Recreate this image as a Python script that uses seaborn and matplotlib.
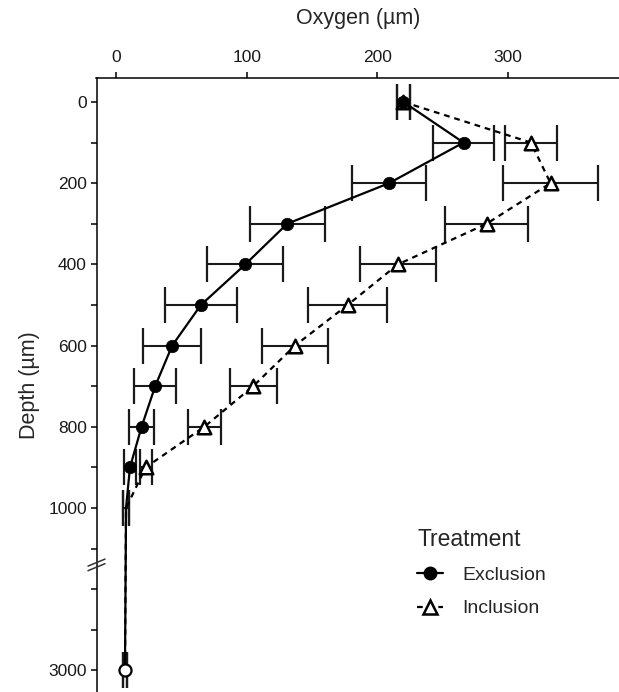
import numpy as np
import pandas as pd
import seaborn as sns
import matplotlib.pyplot as plt
from matplotlib.lines import Line2D
import matplotlib.transforms as mtrans

# depth profile (um) and oxygen readings
depth = [0, 100, 200, 300, 400, 500, 600, 700, 800, 900, 1000, 3000]
excl_o2 = [220, 266, 209, 131, 99, 65, 43, 30, 19.6, 10.7, 7.7, 6.9]
excl_se = [5, 23, 28.5, 28.7, 29, 27.5, 22, 16, 9.5, 4.5, 2.3, 1.5]
incl_o2 = [220, 317.6, 332.6, 283.6, 215.8, 177.3, 137, 105, 67.6, 22.7, 7.7, 6.9]
incl_se = [5, 20, 36, 32, 29, 30, 25.5, 18, 12.7, 4.5, 2.3, 1.5]
treatments = ["Exclusion", "Inclusion"]

ytick_major = [0, 200, 400, 600, 800, 1000, 3000]
ytick_minor = [100, 300, 500, 700, 900, 1500, 2000, 2500]
xticks = [0, 100, 200, 300]


def depth_pos(d):
    # broken axis: below 1000 um the scale is squeezed 5x
    d = np.asarray(d, dtype=float)
    return np.where(d > 1000, 1000 + (d - 1000) * 0.2, d)


df = pd.DataFrame({
    "depth": depth * 2,
    "oxygen": excl_o2 + incl_o2,
    "se": excl_se + incl_se,
    "Treatment": [treatments[0]] * len(depth) + [treatments[1]] * len(depth),
})
df["pos"] = depth_pos(df["depth"])

sns.set_style("ticks")
plt.rcParams["font.family"] = ["Liberation Sans", "DejaVu Sans"]

fig = plt.figure(figsize=(6.19, 6.92), dpi=100)
ax = fig.add_axes([96.5 / 619, 0, 1 - 96.5 / 619, (692 - 78) / 692])

# error bars first, then lines, then points
for t in treatments:
    sub = df[df.Treatment == t]
    ax.errorbar(sub.oxygen, sub.pos, xerr=sub.se, fmt="none", ecolor="#1a1a1a",
                elinewidth=1.5, capsize=13, capthick=1.6, zorder=2)

sns.lineplot(data=df, x="oxygen", y="pos", style="Treatment",
             dashes={"Exclusion": "", "Inclusion": (2.6, 2.2)},
             color="black", lw=1.6, sort=False, estimator=None, orient="y",
             legend=False, ax=ax, zorder=3)

# no markers were drawn at 1000 um
inc = df[(df.Treatment == "Inclusion") & (df.depth <= 900)]
exc = df[(df.Treatment == "Exclusion") & (df.depth <= 900)]
deep = df[(df.Treatment == "Exclusion") & (df.depth == 3000)]
sns.scatterplot(data=inc, x="oxygen", y="pos", marker="^", s=95, color="white",
                edgecolor="black", linewidth=1.8, ax=ax, zorder=4, legend=False)
sns.scatterplot(data=exc, x="oxygen", y="pos", marker="o", s=80, color="black",
                edgecolor="black", linewidth=0.5, ax=ax, zorder=5, legend=False)
sns.scatterplot(data=deep, x="oxygen", y="pos", marker="o", s=75, color="white",
                edgecolor="black", linewidth=1.6, ax=ax, zorder=5, legend=False)

ax.set_xlim(-14.9, 385)
ax.set_ylim(1453, -59)

ax.xaxis.tick_top()
ax.xaxis.set_label_position("top")
ax.set_xticks(xticks)
ax.set_xticklabels([str(v) for v in xticks])
ax.get_xticklabels()[0].set_color("#808080")
ax.set_yticks(depth_pos(ytick_major))
ax.set_yticklabels([str(v) for v in ytick_major])
ax.set_yticks(depth_pos(ytick_minor), minor=True)

ax.tick_params(axis="both", which="both", length=4, width=1.1, color="black",
               labelsize=12.5, labelcolor="#1a1a1a", pad=3)
ax.tick_params(axis="x", top=True, bottom=False, pad=5)

ax.set_xlabel("Oxygen (\u00b5m)", fontsize=15.5, labelpad=19)
ax.set_ylabel("Depth (\u00b5m)", fontsize=15.5, labelpad=6)

for s in ["right", "bottom"]:
    ax.spines[s].set_visible(False)
for s in ["top", "left"]:
    ax.spines[s].set_linewidth(1.1)
    ax.spines[s].set_color("black")

# break marks on the y axis
trans = mtrans.blended_transform_factory(ax.transAxes, ax.transData)
px = 1 / ax.bbox.width
py = 1 / 0.406
for off in (-2.3, 2.3):
    ax.plot([-8.5 * px, 8.5 * px], [1140 + (off + 3.5) * py, 1140 + (off - 3.5) * py],
            transform=trans, color="#333333", lw=1.1, clip_on=False, zorder=6)

handles = [
    Line2D([], [], color="black", lw=1.6, marker="o", ms=9, mfc="black", mec="black"),
    Line2D([], [], color="black", lw=1.6, ls=(0, (2.6, 2.2)), marker="^", ms=9.5,
           mfc="white", mec="black", mew=1.8),
]
leg = fig.legend(handles, treatments, title="Treatment", loc="upper left",
                 bbox_to_anchor=(417 / 619, 1 - 528 / 692), frameon=False,
                 fontsize=14, title_fontsize=16.5, handlelength=1.35,
                 handletextpad=1.0, labelspacing=0.8, borderpad=0,
                 borderaxespad=0, alignment="left")

fig.savefig("out.png", dpi=100)
